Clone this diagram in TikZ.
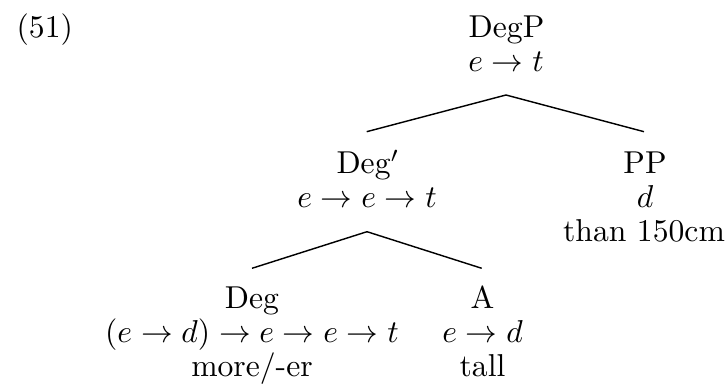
\documentclass[tikz,border=0pt]{standalone}
\usetikzlibrary{calc}
\begin{document}
\begin{tikzpicture}[x=0.316pt,y=-0.316pt,
  lbl/.style={anchor=base,inner sep=0pt},
  edge/.style={draw,line width=0.45pt}]
\useasboundingbox (0,0) rectangle (725,389);
\node[anchor=base west,inner sep=0pt] (ex) at (16,38) {(51)};
% DegP
\node[lbl] (degp) at (506.5,38) {DegP};
\node[lbl] (degpt) at (506,72) {$e\to t$};
% Deg'
\node[lbl] (degbar) at (368,174) {Deg$'$};
\node[lbl] (degbart) at (367,208) {$e\to e\to t$};
% PP
\node[lbl] (pp) at (645,174) {PP};
\node[lbl] (ppt) at (645,208) {$d$};
\node[lbl] (ppw) at (644,242) {than 150cm};
% Deg
\node[lbl] (deg) at (252,309) {Deg};
\node[lbl] (degt) at (252,343) {$(e\to d)\to e\to e\to t$};
\node[lbl] (degw) at (252,377) {more/-er};
% A
\node[lbl] (a) at (482.5,309) {A};
\node[lbl] (at) at (482.5,343) {$e\to d$};
\node[lbl] (aw) at (482.5,377) {tall};
% connectors
\draw[edge] ($(degpt.base)+(0,23)$) -- ($(degbar.base)+(-1.3,-42.3)$);
\draw[edge] ($(degpt.base)+(0,23)$) -- ($(pp.base)+(-1,-42.3)$);
\draw[edge] ($(degbart.base)+(0,23.7)$) -- ($(deg.base)+(0,-40.7)$);
\draw[edge] ($(degbart.base)+(0,23.7)$) -- ($(a.base)+(-0.8,-40.7)$);
\end{tikzpicture}
\end{document}
